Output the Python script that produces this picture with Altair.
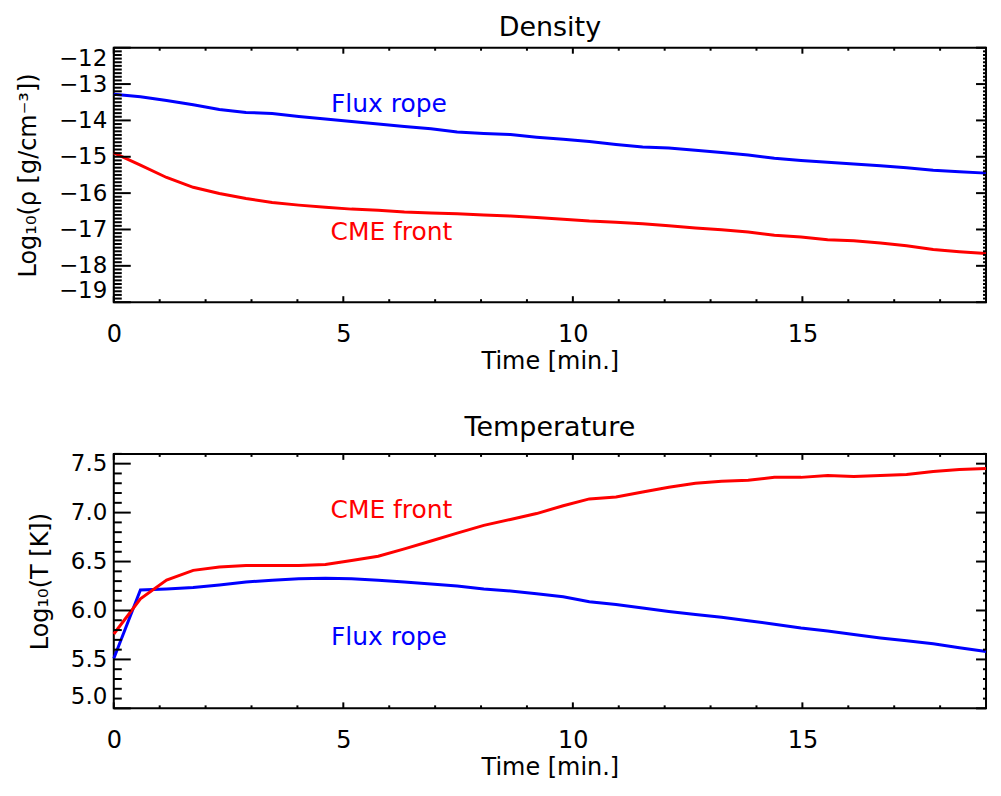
import altair as alt
import pandas as pd

# ---------------- data ----------------
time_min = [0.0, 0.58, 1.15, 1.73, 2.30, 2.88, 3.45, 4.03, 4.61, 5.18, 5.76,
            6.33, 6.91, 7.48, 8.06, 8.64, 9.21, 9.79, 10.36, 10.94, 11.52,
            12.09, 12.67, 13.24, 13.82, 14.39, 14.97, 15.55, 16.12, 16.70,
            17.27, 17.85, 18.42, 19.0]

dens_flux = [-13.28, -13.35, -13.45, -13.57, -13.70, -13.78, -13.81, -13.89,
             -13.96, -14.03, -14.10, -14.17, -14.23, -14.32, -14.36, -14.39,
             -14.46, -14.52, -14.58, -14.66, -14.73, -14.76, -14.82, -14.88,
             -14.95, -15.04, -15.10, -15.15, -15.20, -15.25, -15.30, -15.37,
             -15.41, -15.45]
dens_cme = [-14.89, -15.23, -15.57, -15.84, -16.01, -16.15, -16.26, -16.33,
            -16.39, -16.44, -16.47, -16.52, -16.55, -16.57, -16.60, -16.63,
            -16.67, -16.72, -16.77, -16.80, -16.84, -16.90, -16.96, -17.01,
            -17.07, -17.16, -17.21, -17.28, -17.31, -17.37, -17.45, -17.55,
            -17.61, -17.66]

temp_flux = [5.51, 6.21, 6.22, 6.235, 6.26, 6.29, 6.31, 6.325, 6.33, 6.325,
             6.31, 6.29, 6.27, 6.25, 6.22, 6.20, 6.17, 6.14, 6.09, 6.06,
             6.025, 5.99, 5.96, 5.93, 5.895, 5.86, 5.82, 5.79, 5.755, 5.72,
             5.69, 5.66, 5.62, 5.58]
temp_cme = [5.76, 6.12, 6.31, 6.41, 6.445, 6.46, 6.46, 6.46, 6.47, 6.51,
            6.555, 6.63, 6.71, 6.79, 6.87, 6.93, 6.99, 7.07, 7.14, 7.16,
            7.21, 7.26, 7.30, 7.32, 7.33, 7.36, 7.36, 7.38, 7.37, 7.38,
            7.39, 7.42, 7.44, 7.45]

series_names = ["Flux rope", "CME front"]
series_colors = ["#0000ff", "#ff0000"]

# in-plot labels: time, value (baseline)
dens_label_t = [4.73, 4.72]
dens_label_v = [-13.77, -17.28]
temp_label_t = [4.73, 4.72]
temp_label_v = [5.65, 6.94]

# axes
x_domain = [0, 19]
x_major = [0, 5, 10, 15]
x_minor = [1, 2, 3, 4, 6, 7, 8, 9, 11, 12, 13, 14, 16, 17, 18]

dens_domain = [-19, -12]
dens_major = [-19, -18, -17, -16, -15, -14, -13, -12]
dens_minor = [round(-19 + 0.1 * k, 1) for k in range(71) if k % 10 != 0]

temp_domain = [5.0, 7.6]
temp_major = [5.0, 5.5, 6.0, 6.5, 7.0, 7.5]
temp_minor = [round(5.0 + 0.1 * k, 1) for k in range(27) if k % 5 != 0]

W, H = 874, 255
FONT = "DejaVu Sans"


def lines_df(a, b):
    rows = []
    for name, vals in zip(series_names, [a, b]):
        for t, v in zip(time_min, vals):
            rows.append({"t": t, "v": v, "series": name})
    return pd.DataFrame(rows)


def panel(a, b, lab_t, lab_v, ydomain, ymajor, yminor, yfmt, title,
          ytitle, title_offset):
    color = alt.Color("series:N",
                      scale=alt.Scale(domain=series_names, range=series_colors),
                      legend=None)
    xs = alt.Scale(domain=x_domain, nice=False, zero=False)
    ys = alt.Scale(domain=ydomain, nice=False, zero=False)
    xaxis = alt.Axis(values=x_major, title="Time [min.]",
                     ticks=False, tickSize=0, domain=False,
                     grid=False, labelPadding=20, labelFlush=False,
                     titlePadding=3, format="d",
                     labelFont=FONT, labelFontSize=24, labelColor="black",
                     titleFont=FONT, titleFontSize=24, titleColor="black",
                     titleFontWeight="normal")
    yaxis = alt.Axis(values=ymajor, title=ytitle, ticks=False,
                     tickSize=0, domain=False, grid=False,
                     labelPadding=7, labelFlush=True,
                     titlePadding=18, format=yfmt,
                     labelFont=FONT, labelFontSize=23, labelColor="black",
                     titleFont=FONT, titleFontSize=24, titleColor="black",
                     titleFontWeight="normal")
    X = alt.X("t:Q", scale=xs, axis=xaxis)
    Y = alt.Y("v:Q", scale=ys, axis=yaxis)

    lines = alt.Chart(lines_df(a, b)).mark_line(strokeWidth=3).encode(
        x=X, y=Y, color=color)

    lab = pd.DataFrame({"t": lab_t, "v": lab_v, "series": series_names,
                        "text": series_names})
    texts = alt.Chart(lab).mark_text(align="left", baseline="alphabetic",
                                     fontSize=25, font=FONT).encode(
        x=X, y=Y, text="text:N", color=color)

    ymaj = pd.DataFrame({"v": ymajor})
    ymin = pd.DataFrame({"v": yminor})
    xmaj = pd.DataFrame({"t": x_major})
    xmin = pd.DataFrame({"t": x_minor})

    def yrule(df, x0, x1):
        return alt.Chart(df).mark_rule(color="black", strokeWidth=2).encode(
            y=Y, x=alt.value(x0), x2=alt.value(x1))

    def xrule(df, y0, y1):
        return alt.Chart(df).mark_rule(color="black", strokeWidth=2).encode(
            x=X, y=alt.value(y0), y2=alt.value(y1))

    ticks = [
        yrule(ymaj, 0, 17), yrule(ymin, 0, 8),
        yrule(ymaj, W - 10, W), yrule(ymin, W - 3, W),
        xrule(xmaj, H, H - 6), xrule(xmin, H, H - 3),
        xrule(xmaj, 0, 6), xrule(xmin, 0, 3),
    ]

    return alt.layer(lines, texts, *ticks).properties(
        width=W, height=H,
        title=alt.TitleParams(title, fontSize=27, font=FONT,
                              fontWeight="normal", color="black",
                              baseline="alphabetic", offset=title_offset,
                              anchor="middle"),
    )


top = panel(dens_flux, dens_cme, dens_label_t, dens_label_v, dens_domain,
            dens_major, dens_minor, "d", "Density",
            "Log\u2081\u2080(\u03c1 [g/cm\u207b\u00b3])", -16)
bottom = panel(temp_flux, temp_cme, temp_label_t, temp_label_v, temp_domain,
               temp_major, temp_minor, ".1f", "Temperature",
               "Log\u2081\u2080(T [K])", -10)

chart = alt.vconcat(top, bottom, spacing=38).properties(
    padding={"left": 7, "top": 4, "right": 0, "bottom": 0},
    background="white",
).configure_view(
    stroke="black", strokeWidth=2
)

chart.save("out.html", embed_options={"renderer": "svg", "actions": False})
